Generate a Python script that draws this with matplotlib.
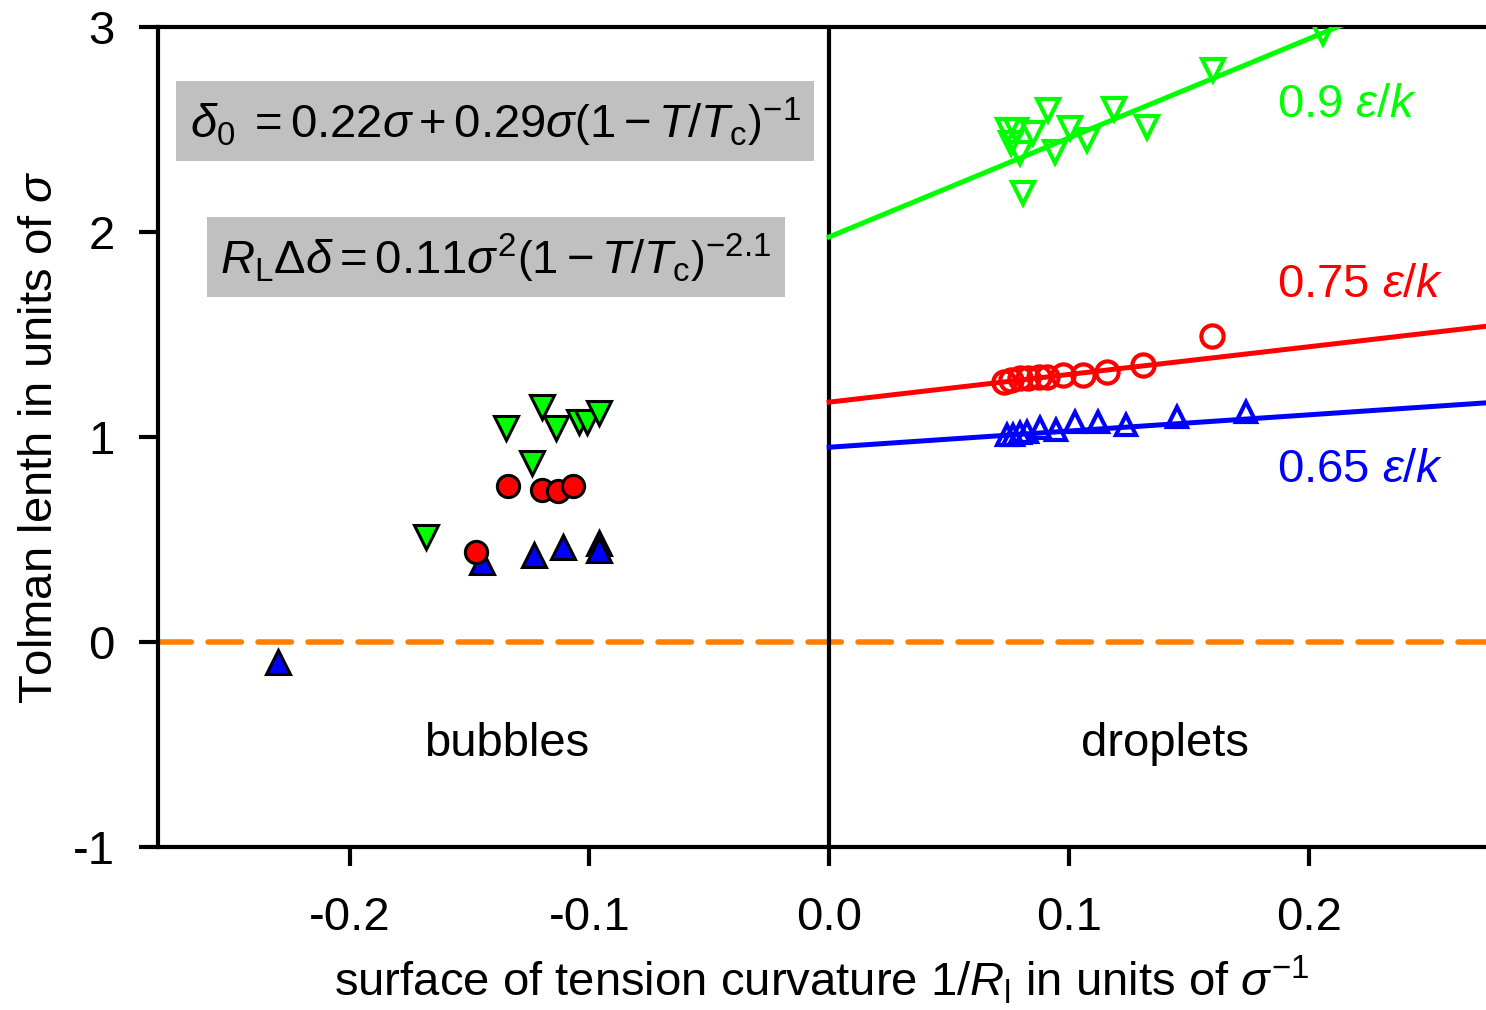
import numpy as np
import matplotlib
matplotlib.use('Agg')
import matplotlib.pyplot as plt

plt.rcParams['font.family'] = ['Liberation Sans', 'DejaVu Sans']
plt.rcParams['mathtext.fontset'] = 'custom'
plt.rcParams['mathtext.rm'] = 'Liberation Sans'
plt.rcParams['mathtext.it'] = 'Liberation Sans:italic'
plt.rcParams['mathtext.bf'] = 'Liberation Sans:bold'

# bubbles (negative curvature), filled markers
bub_g_x = [-0.120, -0.135, -0.114, -0.1045, -0.101, -0.096, -0.124, -0.168]
bub_g_y = [1.146, 1.044, 1.044, 1.073, 1.073, 1.117, 0.873, 0.512]
bub_r_x = [-0.134, -0.1196, -0.113, -0.1067, -0.1475]
bub_r_y = [0.761, 0.741, 0.737, 0.761, 0.439]
bub_b_x = [-0.145, -0.123, -0.111, -0.096, -0.096, -0.230]
bub_b_y = [0.39, 0.424, 0.463, 0.483, 0.449, -0.10]

# droplets (positive curvature), open markers
drop_g_x = [0.206, 0.160, 0.119, 0.1325, 0.0913, 0.1004, 0.1075, 0.085, 0.0746,
            0.078, 0.076, 0.0796, 0.094, 0.081]
drop_g_y = [2.97, 2.79, 2.60, 2.51, 2.595, 2.507, 2.449, 2.483, 2.497,
            2.497, 2.434, 2.385, 2.39, 2.19]
drop_r_x = [0.1596, 0.131, 0.116, 0.106, 0.0975, 0.091, 0.0875, 0.083, 0.0796,
            0.076, 0.073]
drop_r_y = [1.493, 1.351, 1.317, 1.302, 1.302, 1.293, 1.293, 1.288, 1.288,
            1.278, 1.268]
drop_b_x = [0.174, 0.145, 0.124, 0.112, 0.1025, 0.0946, 0.088, 0.0825, 0.0796,
            0.074, 0.0767]
drop_b_y = [1.122, 1.098, 1.059, 1.073, 1.073, 1.034, 1.044, 1.024, 1.02,
            1.01, 1.01]

# linear fits for droplets
fit_intercept = [1.976, 1.17, 0.95]
fit_slope = [4.83, 1.35, 0.79]
temps = ['0.9', '0.75', '0.65']
colors = ['#00ff00', '#ff0000', '#0000ff']

fs = 34

fig = plt.figure(figsize=(14.86, 10.10), dpi=100)
ax = fig.add_axes([0.1063, 0.1614, 0.8937, 0.8119])

xmin, xmax = -0.28, 0.274
ax.set_xlim(xmin, xmax)
ax.set_ylim(-1, 3)

ax.axhline(0, color='#ff8000', lw=4, dashes=(6, 3), dash_capstyle='round', zorder=1)
ax.axvline(0, color='black', lw=3, zorder=2)

xf = np.array([0, xmax])
for b, m, c in zip(fit_intercept, fit_slope, colors):
    ax.plot(xf, b + m * xf, color=c, lw=3.6, zorder=3)

ax.plot(bub_g_x, bub_g_y, 'v', ms=17, mfc='#00ff00', mec='black', mew=2.2, ls='none', zorder=4)
ax.plot(bub_b_x, bub_b_y, '^', ms=17, mfc='#0000ff', mec='black', mew=2.2, ls='none', zorder=4)
ax.plot(bub_r_x, bub_r_y, 'o', ms=16, mfc='#ff0000', mec='black', mew=2.2, ls='none', zorder=5)

ax.plot(drop_g_x, drop_g_y, 'v', ms=15.5, mfc='none', mec='#00ff00', mew=3, ls='none', zorder=4)
ax.plot(drop_r_x, drop_r_y, 'o', ms=16, mfc='none', mec='#ff0000', mew=3, ls='none', zorder=4)
ax.plot(drop_b_x, drop_b_y, '^', ms=15, mfc='none', mec='#0000ff', mew=3, ls='none', zorder=4)

label_y = [2.62, 1.74, 0.84]
for t, c, yy in zip(temps, colors, label_y):
    ax.text(0.187, yy, t + r' $\varepsilon/k$', color=c, fontsize=fs, va='center', ha='left')

ax.text(-0.1346, -0.50, 'bubbles', fontsize=fs, ha='center', va='center')
ax.text(0.140, -0.50, 'droplets', fontsize=fs, ha='center', va='center')

ax.text(-0.2667, 2.54, r'$\delta_\mathrm{0}\;=0.22\sigma+0.29\sigma\left(1-T/T_\mathrm{c}\right)^{-1}$',
        fontsize=fs, ha='left', va='center',
        bbox=dict(facecolor='#c0c0c0', edgecolor='none', pad=10))
ax.text(-0.254, 1.876, r'$R_\mathrm{L}\Delta\delta=0.11\sigma^2\left(1-T/T_\mathrm{c}\right)^{-2.1}$',
        fontsize=fs, ha='left', va='center',
        bbox=dict(facecolor='#c0c0c0', edgecolor='none', pad=10))

ax.set_xticks([-0.2, -0.1, 0.0, 0.1, 0.2])
ax.set_xticklabels(['-0.2', '-0.1', '0.0', '0.1', '0.2'])
ax.set_yticks([-1, 0, 1, 2, 3])
ax.set_yticklabels(['-1', '0', '1', '2', '3'])
ax.tick_params(axis='both', direction='out', length=14, width=3, labelsize=fs)
ax.tick_params(axis='x', pad=21)
ax.tick_params(axis='y', pad=17)

for s in ['left', 'top', 'bottom']:
    ax.spines[s].set_linewidth(3)
ax.spines['right'].set_visible(False)

ax.set_xlabel(r'surface of tension curvature 1/$R_\mathrm{l}$ in units of $\sigma^{-1}$', fontsize=fs, labelpad=10)
ax.set_ylabel(r'Tolman lenth in units of $\sigma$', fontsize=fs, labelpad=8)

fig.savefig('out.png', dpi=100)
